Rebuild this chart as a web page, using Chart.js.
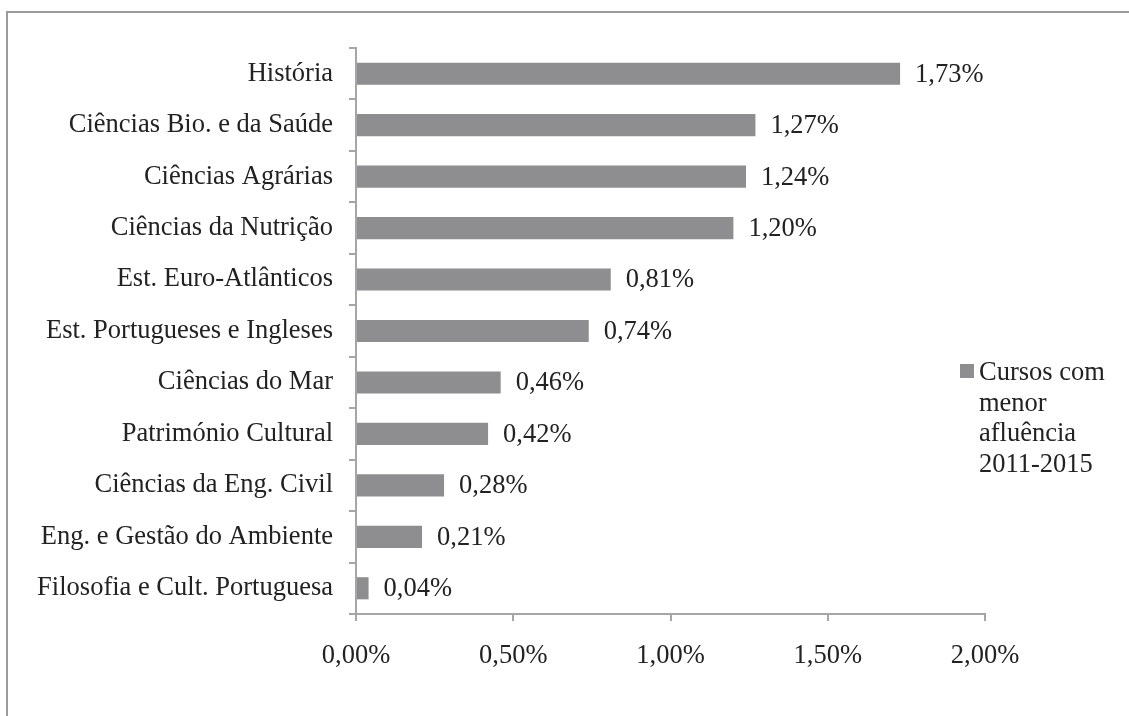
<!DOCTYPE html>
<html>
<head>
<meta charset="utf-8">
<script src="https://cdn.jsdelivr.net/npm/chart.js@4.4.1/dist/chart.umd.min.js"></script>
<style>
  html, body { margin: 0; padding: 0; background: #fff; overflow: hidden; }
  #wrap { position: relative; width: 1129px; height: 716px; }
  #frame { position: absolute; left: 6px; top: 11px; width: 1200px; height: 800px; border: 2px solid #9a9a9a; }
  #legend { position: absolute; left: 960px; top: 356px; font-family: "Liberation Serif", serif; font-size: 26.5px; line-height: 30.5px; color: #222; }
  #legend .box { position: absolute; left: 0; top: 8px; width: 14px; height: 14px; background: #8e8e91; }
  #legend .txt { margin-left: 19px; }
</style>
</head>
<body>
<div id="wrap">
  <div id="frame"></div>
  <canvas id="statsChart" width="1129" height="716"></canvas>
  <div id="legend"><span class="box"></span><div class="txt">Cursos com<br>menor<br>afluência<br>2011-2015</div></div>
</div>
<script>
const categories = [
    "História",
    "Ciências Bio. e da Saúde",
    "Ciências Agrárias",
    "Ciências da Nutrição",
    "Est. Euro-Atlânticos",
    "Est. Portugueses e Ingleses",
    "Ciências do Mar",
    "Património Cultural",
    "Ciências da Eng. Civil",
    "Eng. e Gestão do Ambiente",
    "Filosofia e Cult. Portuguesa"
]
const values = [1.73, 1.27, 1.24, 1.20, 0.81, 0.74, 0.46, 0.42, 0.28, 0.21, 0.04]
const xTicks = [0, 0.5, 1, 1.5, 2]
const seriesName = "Cursos com menor afluência 2011-2015"

const fmt = (v, d) => v.toFixed(d).replace('.', ',') + '%'

const valueLabels = {
    id: 'valueLabels',
    afterDatasetsDraw(chart) {
        const ctx = chart.ctx
        const meta = chart.getDatasetMeta(0)
        ctx.save()
        ctx.font = '26.5px "Liberation Serif"'
        ctx.fillStyle = '#222'
        ctx.textBaseline = 'middle'
        ctx.textAlign = 'left'
        meta.data.forEach((bar, i) => {
            ctx.fillText(fmt(values[i], 2), bar.x + 15, bar.y + 1)
        })
        ctx.restore()
    }
}

function createChart(selector)
{
    const ctx = document.querySelector(selector)

    new Chart(ctx, {
        type: 'bar',
        data: {
            labels: categories,
            datasets: [{
                label: seriesName,
                data: values,
                backgroundColor: '#8e8e91',
                borderWidth: 0,
                barPercentage: 0.86,
                categoryPercentage: 0.5
            }]
        },
        plugins: [valueLabels],
        options: {
            indexAxis: 'y',
            responsive: false,
            animation: false,
            layout: { padding: { top: 48, right: 144, left: 0, bottom: 0 } },
            plugins: {
                legend: { display: false },
                tooltip: { enabled: false }
            },
            scales: {
                x: {
                    min: 0,
                    max: 2,
                    afterBuildTicks: (scale) => { scale.ticks = xTicks.map(v => ({ value: v })) },
                    afterFit: (scale) => { scale.height = 102 },
                    border: { color: '#a6a6a6', width: 2 },
                    grid: { drawOnChartArea: false, tickLength: 7, color: '#a6a6a6', lineWidth: 2 },
                    ticks: {
                        padding: 19,
                        color: '#222',
                        font: { family: 'Liberation Serif', size: 26.5 },
                        callback: (v) => fmt(v, 2)
                    }
                },
                y: {
                    afterFit: (scale) => { scale.width = 356 },
                    border: { color: '#a6a6a6', width: 2 },
                    grid: { drawOnChartArea: false, tickLength: 7, color: '#a6a6a6', lineWidth: 2, offset: true },
                    ticks: {
                        padding: 16,
                        color: '#222',
                        font: { family: 'Liberation Serif', size: 26.5 }
                    }
                }
            }
        }
    })
}

createChart("#statsChart")
</script>
</body>
</html>
